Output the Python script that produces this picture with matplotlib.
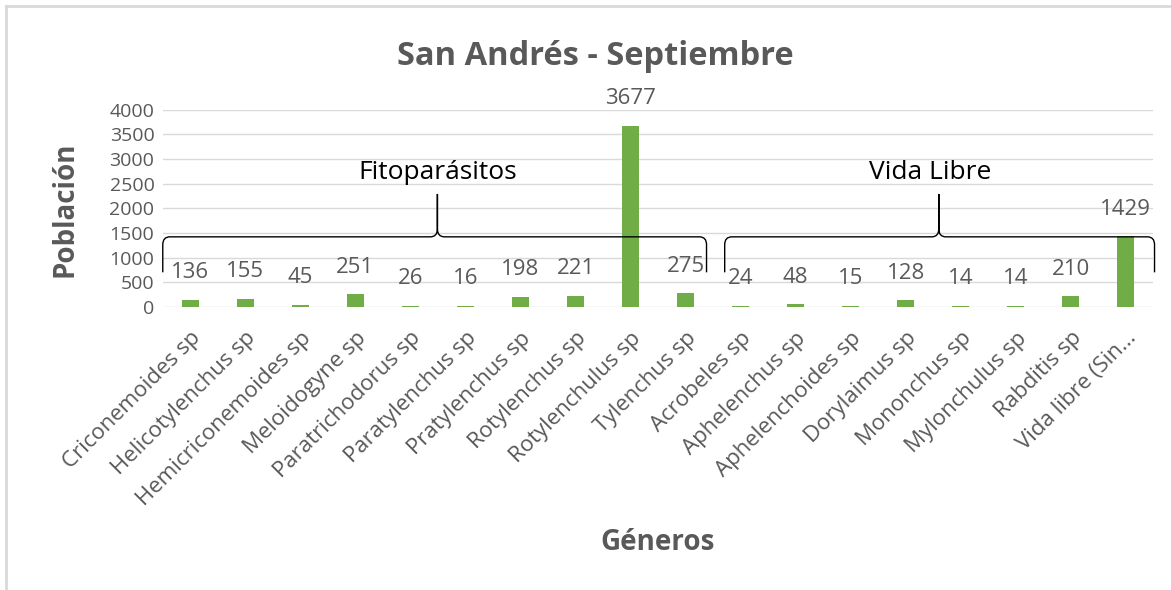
import numpy as np
import matplotlib
matplotlib.use("Agg")
import matplotlib.pyplot as plt
from matplotlib.path import Path
from matplotlib.patches import PathPatch

plt.rcParams['font.family'] = ['Open Sans', 'DejaVu Sans']

#data
generos = ["Criconemoides sp", "Helicotylenchus sp", "Hemicriconemoides sp",
           "Meloidogyne sp", "Paratrichodorus sp", "Paratylenchus sp",
           "Pratylenchus sp", "Rotylenchus sp", "Rotylenchulus sp",
           "Tylenchus sp", "Acrobeles sp", "Aphelenchus sp",
           "Aphelenchoides sp", "Dorylaimus sp", "Mononchus sp",
           "Mylonchulus sp", "Rabditis sp", "Vida libre (Sin..."]
poblacion = [136, 155, 45, 251, 26, 16, 198, 221, 3677, 275,
             24, 48, 15, 128, 14, 14, 210, 1429]
grupos = ["Fitoparásitos", "Vida Libre"]

gray = '#595959'
green = '#70AD47'

fig = plt.figure(figsize=(11.71, 5.9), dpi=100)
ax = fig.add_axes([0.139, 0.48, 0.846, 0.334])

x = np.arange(len(generos))
bars = ax.bar(x, poblacion, width=0.31, color=green, zorder=2)
ax.bar_label(bars, padding=12, fontsize=16, color=gray)

ax.set_xlim(-0.5, len(generos) - 0.5)
ax.set_ylim(0, 4000)
ax.set_yticks(np.arange(0, 4001, 500))
ax.set_xticks(x)
ax.set_xticklabels(generos, rotation=45, ha='right', rotation_mode='anchor',
                   fontsize=16, color=gray)
ax.tick_params(axis='y', labelsize=14, labelcolor=gray, length=0, pad=6)
ax.tick_params(axis='x', length=0, pad=15)
ax.grid(axis='y', color='#D9D9D9', linewidth=1, zorder=0)
for s in ax.spines.values():
    s.set_visible(False)

ax.set_xlabel("Géneros", fontsize=20, fontweight='bold', color=gray)
ax.xaxis.set_label_coords(0.499, -1.12)
fig.text(65 / 1171, 1 - 209 / 590, "Población", rotation=90, ha='center', va='center',
         fontsize=20, fontweight='bold', color=gray)
fig.text(0.508, 0.905, "San Andrés - Septiembre", ha='center', va='center',
         fontsize=23.5, fontweight='bold', color=gray)


def brace(ax, x0, x1, xm, y, ylo, ytip, rx=0.13, ry=160):
    verts = [(x0, ylo), (x0, y - ry), (x0, y), (x0 + rx, y),
             (xm - rx, y), (xm, y), (xm, y + ry), (xm, ytip),
             (xm, y + ry), (xm, y), (xm + rx, y),
             (x1 - rx, y), (x1, y), (x1, y - ry), (x1, ylo)]
    codes = [Path.MOVETO, Path.LINETO, Path.CURVE3, Path.CURVE3,
             Path.LINETO, Path.CURVE3, Path.CURVE3, Path.LINETO,
             Path.LINETO, Path.CURVE3, Path.CURVE3,
             Path.LINETO, Path.CURVE3, Path.CURVE3, Path.LINETO]
    ax.add_patch(PathPatch(Path(verts, codes), fill=False, edgecolor='black',
                           linewidth=1, zorder=5, clip_on=False))


brace(ax, -0.5, 9.38, 4.49, 1420, 700, 2290)
brace(ax, 9.71, 17.52, 13.6, 1420, 700, 2290)
ax.text(4.49, 2720, grupos[0], ha='center', va='center', fontsize=19, color='black')
ax.text(13.45, 2720, grupos[1], ha='center', va='center', fontsize=19, color='black')

# chart frame (top and left only)
fig.add_artist(plt.Line2D([0.005, 1.0], [0.989, 0.989], transform=fig.transFigure,
                          color='#D9D9D9', linewidth=2))
fig.add_artist(plt.Line2D([0.005, 0.005], [0.0, 0.989], transform=fig.transFigure,
                          color='#D9D9D9', linewidth=2))

plt.savefig("out.png", dpi=100)
